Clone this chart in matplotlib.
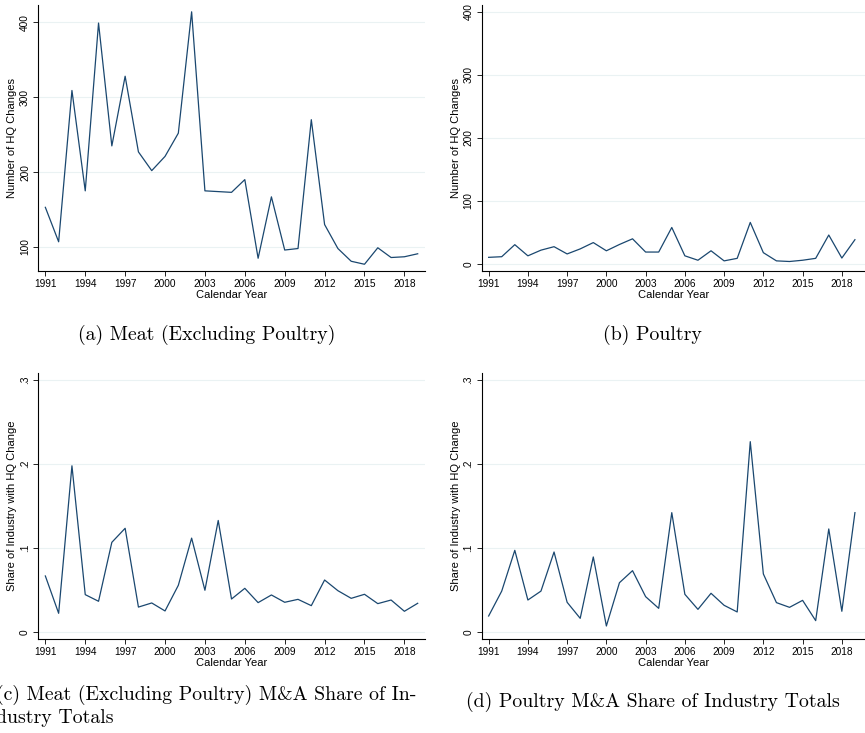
import numpy as np
import matplotlib
matplotlib.use("Agg")
import matplotlib.pyplot as plt

# data
years = list(range(1991, 2020))
meat_hq = [153, 107, 309, 175, 399, 235, 328, 227, 202, 221, 252, 414, 175, 174, 173, 190,
           85, 167, 96, 98, 270, 130, 98, 81, 77, 99, 86, 87, 91]
poultry_hq = [10.6, 11.6, 30.7, 13, 22, 27.5, 16, 24, 34, 21, 31, 40, 19, 19, 58, 13,
              6, 21, 5, 9, 66, 18, 5, 4, 6, 9, 46, 9.5, 38.6]
meat_share = [0.067, 0.0226, 0.198, 0.0448, 0.0369, 0.107, 0.1237, 0.030, 0.0349, 0.0254,
              0.0559, 0.112, 0.050, 0.133, 0.0396, 0.0523, 0.0353, 0.0444, 0.0357, 0.0392,
              0.0317, 0.0622, 0.0495, 0.0404, 0.0452, 0.0341, 0.0384, 0.025, 0.0345]
poultry_share = [0.0194, 0.049, 0.0975, 0.0384, 0.049, 0.0955, 0.0357, 0.0166, 0.0896, 0.0075,
                 0.059, 0.0733, 0.0424, 0.0285, 0.1423, 0.0452, 0.0273, 0.0464, 0.0321, 0.0242,
                 0.2267, 0.0694, 0.0353, 0.0297, 0.038, 0.0139, 0.1229, 0.025, 0.1423]

xticks = list(range(1991, 2019, 3))
count_ticks_a = [100, 200, 300, 400]
count_ticks_b = [0, 100, 200, 300, 400]
share_ticks = [0, 0.1, 0.2, 0.3]
share_labels = ["0", ".1", ".2", ".3"]

captions = ["(a) Meat (Excluding Poultry)", "(b) Poultry",
            "(c) Meat (Excluding Poultry) M&A Share of In-", "dustry Totals",
            "(d) Poultry M&A Share of Industry Totals"]

W, H = 865, 733
fig = plt.figure(figsize=(W / 100, H / 100), dpi=100)
plt.rcParams['font.family'] = ['Liberation Sans', 'DejaVu Sans']

line_color = "#1a476f"
grid_color = "#eaf2f3"


def make_axes(left, right, top, bottom):
    # pixel box -> figure fraction
    return fig.add_axes([left / W, 1 - bottom / H, (right - left) / W, (bottom - top) / H])


def style(ax, yticks, ylabels, ylim, xlim, ylabel):
    ax.set_xlim(xlim)
    ax.set_ylim(ylim)
    ax.set_xticks(xticks)
    ax.set_yticks(yticks)
    ax.set_yticklabels(ylabels, rotation=90, va="center")
    for s in ["top", "right"]:
        ax.spines[s].set_visible(False)
    for s in ["left", "bottom"]:
        ax.spines[s].set_linewidth(0.8)
    ax.tick_params(axis="both", length=3.5, width=0.6, labelsize=7.3, pad=2.5)
    ax.grid(axis="y", color=grid_color, lw=0.8)
    ax.set_axisbelow(True)
    ax.set_ylabel(ylabel, fontsize=8, va="center")
    ax.set_xlabel("Calendar Year", fontsize=8, va="center")
    w = ax.get_position().width * W
    h = ax.get_position().height * H
    ax.yaxis.set_label_coords(-26 / w, 0.5)
    ax.xaxis.set_label_coords(0.5, -24 / h)


ax_a = make_axes(38.3, 425, 5, 270.7)
ax_a.plot(years, meat_hq, color=line_color, lw=0.9)
style(ax_a, count_ticks_a, [str(t) for t in count_ticks_a], (68.4, 423.1),
      (1990.47, 2019.55), "Number of HQ Changes")

ax_b = make_axes(481.7, 865, 5, 270.7)
ax_b.plot(years, poultry_hq, color=line_color, lw=0.9)
style(ax_b, count_ticks_b, [str(t) for t in count_ticks_b], (-10.6, 411),
      (1990.47, 2019.77), "Number of HQ Changes")

ax_c = make_axes(38.3, 425, 373.3, 638.7)
ax_c.plot(years, meat_share, color=line_color, lw=0.9)
style(ax_c, share_ticks, share_labels, (-0.0076, 0.308),
      (1990.47, 2019.55), "Share of Industry with HQ Change")

ax_d = make_axes(481.7, 865, 373.3, 638.7)
ax_d.plot(years, poultry_share, color=line_color, lw=0.9)
style(ax_d, share_ticks, share_labels, (-0.0076, 0.308),
      (1990.47, 2019.77), "Share of Industry with HQ Change")

# subfigure captions in a LaTeX-like serif (caption c runs off the left edge, as in the source)
cap_font = dict(family=["cmr10", "DejaVu Serif"], fontsize=14.3, va="baseline")
fig.text(207 / W, 1 - 340 / H, captions[0], ha="center", **cap_font)
fig.text(652 / W, 1 - 340 / H, captions[1], ha="center", **cap_font)
fig.text(-4 / W, 1 - 700 / H, captions[2], ha="left", **cap_font)
fig.text(-4 / W, 1 - 723 / H, captions[3], ha="left", **cap_font)
fig.text(653 / W, 1 - 707 / H, captions[4], ha="center", **cap_font)

fig.savefig("out.png", dpi=100)
